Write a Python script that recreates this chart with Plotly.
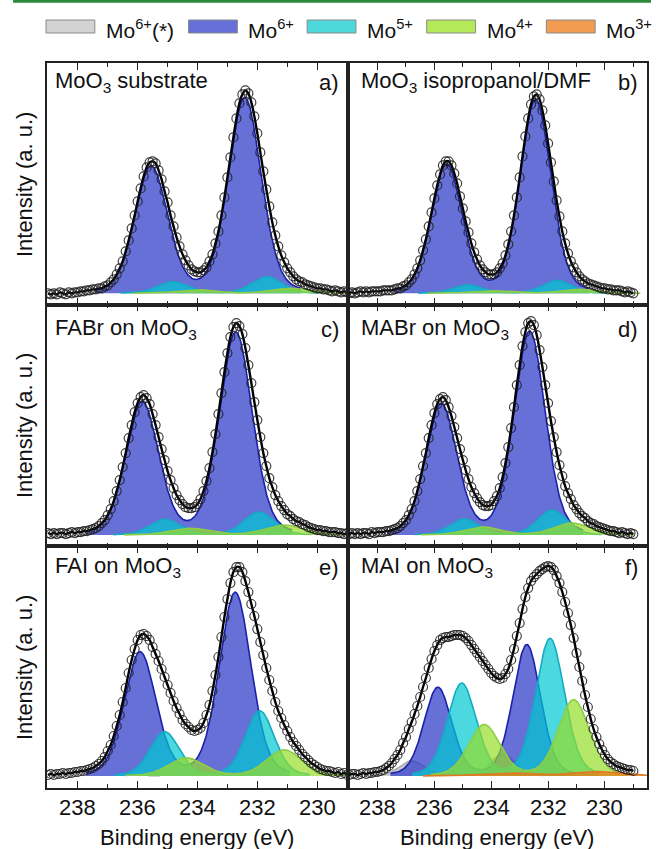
import numpy as np
import plotly.graph_objects as go
from plotly.subplots import make_subplots

SPECIES = ["Mo6+(*)", "Mo6+", "Mo5+", "Mo4+", "Mo3+"]
LEGEND_LABELS = ["Mo<sup>6+</sup>(*)", "Mo<sup>6+</sup>", "Mo<sup>5+</sup>", "Mo<sup>4+</sup>", "Mo<sup>3+</sup>"]
PANEL_TITLES = ["MoO<sub>3</sub> substrate", "MoO<sub>3</sub> isopropanol/DMF",
                "FABr on MoO<sub>3</sub>", "MABr on MoO<sub>3</sub>",
                "FAI on MoO<sub>3</sub>", "MAI on MoO<sub>3</sub>"]
PANEL_TAGS = ["a)", "b)", "c)", "d)", "e)", "f)"]
X_TICKS = [238, 236, 234, 232, 230]
X_MINOR = [237, 235, 233, 231, 229]

# binding energies of the measured points (eV), 239.0 -> 229.0 in 0.1 eV steps
BE = np.round(np.arange(239.0, 228.95, -0.1), 2)

# measured intensities (a. u.), one value per binding energy
int_a = [0, -1, 0, -1, 1, 0, -1, 1, 0, 1, 1, 2, 2, 3, 3, 4, 4, 5, 5, 7, 8, 11, 14, 19, 25, 32, 42, 53, 65, 78, 92,
         105, 117, 126, 131, 132, 130, 123, 114, 102, 91, 78, 67, 56, 47, 39, 33, 28, 24, 22, 21, 21, 23, 26,
         32, 39, 50, 62, 78, 96, 116, 136, 156, 175, 190, 199, 203, 200, 191, 177, 160, 141, 122, 104, 87, 71,
         58, 47, 38, 31, 25, 21, 17, 14, 12, 11, 9, 8, 7, 6, 5, 5, 4, 4, 3, 2, 3, 2, 1, 2, 1]
int_b = [0, 1, 0, 1, 2, 1, 2, 1, 2, 2, 2, 2, 3, 3, 3, 3, 4, 5, 5, 7, 8, 11, 14, 19, 25, 33, 43, 54, 67, 81, 95,
         108, 119, 128, 132, 132, 128, 120, 110, 97, 85, 72, 61, 50, 41, 34, 28, 24, 21, 19, 19, 19, 21, 25,
         30, 38, 49, 62, 78, 96, 116, 137, 157, 175, 189, 197, 199, 194, 183, 168, 150, 131, 112, 93, 77, 62,
         50, 40, 32, 26, 21, 17, 14, 12, 10, 9, 8, 7, 6, 5, 5, 4, 4, 3, 3, 3, 2, 1, 2, 1, 0]
int_c = [2, 1, 2, 1, 2, 2, 1, 2, 3, 2, 3, 3, 4, 4, 5, 6, 7, 9, 12, 15, 20, 26, 34, 44, 55, 68, 82, 97, 110, 123,
         132, 138, 140, 137, 131, 121, 110, 98, 86, 75, 64, 55, 47, 40, 35, 31, 28, 27, 27, 28, 31, 36, 44, 54,
         67, 83, 101, 121, 142, 163, 182, 198, 208, 212, 209, 201, 187, 170, 152, 133, 115, 98, 82, 69, 57, 48,
         40, 34, 29, 25, 21, 19, 16, 14, 13, 11, 10, 8, 7, 6, 5, 5, 4, 4, 3, 3, 3, 2, 2, 1, 2]
int_d = [1, 2, 1, 2, 1, 2, 2, 1, 3, 2, 3, 3, 3, 4, 4, 5, 6, 7, 9, 12, 15, 20, 26, 34, 44, 56, 69, 82, 97, 110,
         122, 131, 136, 138, 135, 128, 119, 108, 97, 86, 75, 65, 56, 48, 42, 37, 33, 30, 29, 29, 30, 34, 39, 47,
         58, 72, 88, 107, 128, 150, 170, 189, 203, 212, 214, 210, 200, 185, 168, 150, 132, 114, 98, 83, 70, 59,
         49, 42, 36, 30, 26, 22, 19, 17, 14, 12, 11, 9, 8, 7, 6, 5, 4, 4, 3, 2, 3, 2, 1, 2, 1]
int_e = [1, 2, 1, 2, 2, 3, 2, 3, 3, 4, 4, 5, 5, 6, 7, 8, 10, 12, 15, 19, 25, 31, 40, 50, 61, 74, 88, 103, 116, 127,
         136, 141, 142, 140, 136, 129, 122, 115, 107, 99, 91, 83, 75, 68, 62, 56, 52, 49, 46, 45, 46, 48, 53, 61,
         71, 85, 101, 119, 139, 159, 177, 193, 204, 209, 209, 204, 195, 184, 172, 160, 147, 134, 121, 108, 96,
         85, 74, 65, 58, 51, 45, 39, 34, 30, 26, 22, 19, 16, 13, 11, 9, 7, 6, 5, 5, 4, 3, 4, 2, 3, 1]
int_f = [1, 2, 2, 1, 2, 3, 2, 3, 3, 4, 4, 5, 6, 8, 10, 13, 17, 21, 26, 33, 39, 47, 54, 62, 70, 79, 89, 98, 108, 117,
         125, 131, 136, 138, 139, 139, 140, 141, 141, 141, 140, 138, 135, 131, 127, 123, 119, 115, 111, 107, 103,
         100, 98, 97, 98, 102, 107, 116, 127, 140, 153, 167, 179, 188, 195, 199, 202, 205, 207, 209, 210, 209,
         206, 200, 193, 184, 174, 163, 151, 138, 123, 109, 95, 81, 69, 57, 47, 39, 32, 26, 21, 17, 14, 12, 10,
         9, 8, 7, 6, 6, 5]
MEASURED = [int_a, int_b, int_c, int_d, int_e, int_f]

# fitted components: [3d5/2 position (eV), 3d5/2 height, 3d3/2 position (eV), 3d3/2 height, FWHM (eV)]
comp_a = {"Mo6+": [232.42, 195, 235.55, 126, 1.30], "Mo5+": [231.67, 16.6, 234.83, 11.6, 1.2],
          "Mo4+": [230.88, 5, 234.0, 3.5, 1.5]}
comp_b = {"Mo6+": [232.44, 193, 235.57, 128, 1.28], "Mo5+": [231.69, 13, 234.83, 8.5, 1.2],
          "Mo4+": [230.93, 4, 234.06, 2.7, 1.5]}
comp_c = {"Mo6+": [232.72, 202, 235.85, 132, 1.30], "Mo5+": [231.94, 23, 235.08, 15.7, 1.2],
          "Mo4+": [231.11, 10, 234.27, 6.7, 1.5]}
comp_d = {"Mo6+": [232.65, 203, 235.76, 130, 1.30], "Mo5+": [231.86, 25, 234.95, 16, 1.2],
          "Mo4+": [231.16, 12, 234.30, 8, 1.5]}
comp_e = {"Mo6+(*)": [237.0, 3, 233.9, 2, 1.2], "Mo6+": [232.74, 183, 235.92, 123, 1.25],
          "Mo5+": [231.92, 65, 235.10, 44, 1.15], "Mo4+": [231.10, 26, 234.38, 18, 1.4]}
comp_f = {"Mo6+(*)": [233.60, 22, 236.80, 15, 1.0], "Mo6+": [232.75, 131, 235.88, 88, 1.15],
          "Mo5+": [231.93, 137, 235.04, 92, 1.2], "Mo4+": [231.10, 76, 234.25, 51, 1.3],
          "Mo3+": [230.30, 4.5, 233.50, 3, 2.0]}
COMPONENTS = [comp_a, comp_b, comp_c, comp_d, comp_e, comp_f]

FILL = ["rgba(175,175,175,0.6)", "rgba(52,64,202,0.75)", "rgba(0,200,210,0.7)",
        "rgba(150,222,40,0.7)", "rgba(235,120,20,0.75)"]
EDGE = ["#a8a8a8", "#1b22a8", "#14aac4", "#8fcd45", "#e07a22"]
LEGEND_FILL = ["#d3d3d3", "#6670d8", "#4dd8dc", "#b4ea5a", "#f29c52"]

W, H = 656, 849
ML, MR, MT, MB = 47, 7, 63, 61
PW, PH = W - ML - MR, H - MT - MB


def px(xp):
    return (xp - ML) / PW


def py(yp):
    return (H - MB - yp) / PH


def pv(x, c, h, w, eta=0.2):
    d = (x - c) / w
    return h * ((1 - eta) * np.exp(-4 * np.log(2) * d * d) + eta / (1 + 4 * d * d))


fig = make_subplots(rows=3, cols=2, horizontal_spacing=0, vertical_spacing=0,
                    column_widths=[302, 300])

for k, comps in enumerate(COMPONENTS):
    r, c = k // 2 + 1, k % 2 + 1
    for si, sp in enumerate(SPECIES):
        if sp not in comps:
            continue
        p5, h5, p3, h3, w = comps[sp]
        xf = np.linspace(p3 + 1.45 * w, p5 - 1.45 * w, 300)
        yf = pv(xf, p5, h5, w) + pv(xf, p3, h3, w)
        fig.add_trace(go.Scatter(x=xf, y=yf, mode="lines", fill="tozeroy",
                                 fillcolor=FILL[si], line=dict(color=EDGE[si], width=1.6),
                                 showlegend=False, hoverinfo="skip"), row=r, col=c)
    yd = MEASURED[k]
    fig.add_trace(go.Scatter(x=BE, y=yd, mode="lines", line=dict(color="black", width=2.4, shape="spline"),
                             showlegend=False, hoverinfo="skip"), row=r, col=c)
    fig.add_trace(go.Scatter(x=BE, y=yd, mode="markers",
                             marker=dict(symbol="circle-open", size=9, color="rgba(30,30,30,0.85)",
                                         line=dict(width=1.2)),
                             showlegend=False, hoverinfo="skip"), row=r, col=c)

row_ranges = {1: [-11.3, 230.4], 2: [-11.3, 230.4], 3: [-12, 229.7]}
for r in (1, 2, 3):
    for c in (1, 2):
        fig.update_xaxes(range=[239.03, 228.97] if c == 1 else [239.04, 228.52],
                         tickvals=X_TICKS, ticks="inside", ticklen=7, tickwidth=1.3,
                         tickcolor="#222", minor=dict(tickvals=X_MINOR, ticks="inside", ticklen=4,
                                                      tickwidth=1.3, tickcolor="#222"),
                         showline=True, linecolor="#222", linewidth=1.5, mirror="ticks",
                         showgrid=False, zeroline=False, showticklabels=False,
                         row=r, col=c)
        fig.update_yaxes(range=row_ranges[r], showline=True, linecolor="#222", linewidth=1.5,
                         mirror=True, ticks="", showticklabels=False, showgrid=False,
                         zeroline=False, row=r, col=c)

ann = []
FONT = dict(family="Liberation Sans, Arial", size=22, color="#111")
label_y = [82, 82, 329, 329, 567, 567]
for k in range(6):
    c = k % 2
    lx = 53 if c == 0 else 360
    rx = 342 if c == 0 else 642
    ann.append(dict(x=px(lx), y=py(label_y[k]), xref="paper", yref="paper", text=PANEL_TITLES[k],
                    showarrow=False, xanchor="left", yanchor="middle", font=FONT))
    ann.append(dict(x=px(rx), y=py(label_y[k]), xref="paper", yref="paper", text=PANEL_TAGS[k],
                    showarrow=False, xanchor="right", yanchor="middle", font=FONT))
for xa in ("x5", "x6"):
    for t in X_TICKS:
        ann.append(dict(x=t, y=py(807), xref=xa, yref="paper", text=str(t), showarrow=False,
                        xanchor="center", yanchor="middle", font=FONT))
for yc in (184, 425, 667):
    ann.append(dict(x=px(24), y=py(yc), xref="paper", yref="paper", text="Intensity (a. u.)",
                    textangle=-90, showarrow=False, xanchor="center", yanchor="middle", font=FONT))
for xc in (198, 499):
    ann.append(dict(x=px(xc), y=py(838), xref="paper", yref="paper", text="Binding energy (eV)",
                    showarrow=False, xanchor="center", yanchor="middle", font=FONT))

shapes = [dict(type="rect", xref="paper", yref="paper", x0=px(13), x1=px(653), y0=py(2.7), y1=py(0),
               fillcolor="#2a8a3c", line=dict(width=0))]
leg_x = [46, 189, 308, 428, 548]
LFONT = dict(family="Liberation Sans, Arial", size=21, color="#111")
for i in range(5):
    shapes.append(dict(type="rect", xref="paper", yref="paper", x0=px(leg_x[i]), x1=px(leg_x[i] + 49),
                       y0=py(33), y1=py(20), fillcolor=LEGEND_FILL[i], line=dict(color="#8a8a8a", width=1)))
    ann.append(dict(x=px(leg_x[i] + 58), y=py(29), xref="paper", yref="paper", text=LEGEND_LABELS[i],
                    showarrow=False, xanchor="left", yanchor="middle", font=LFONT))

fig.update_layout(width=W, height=H, margin=dict(l=ML, r=MR, t=MT, b=MB),
                  plot_bgcolor="white", paper_bgcolor="white", annotations=ann, shapes=shapes,
                  showlegend=False)
fig.write_html("out.html", config={"displayModeBar": False},
               post_script="document.body.style.margin='0px';document.body.style.overflow='hidden';")
